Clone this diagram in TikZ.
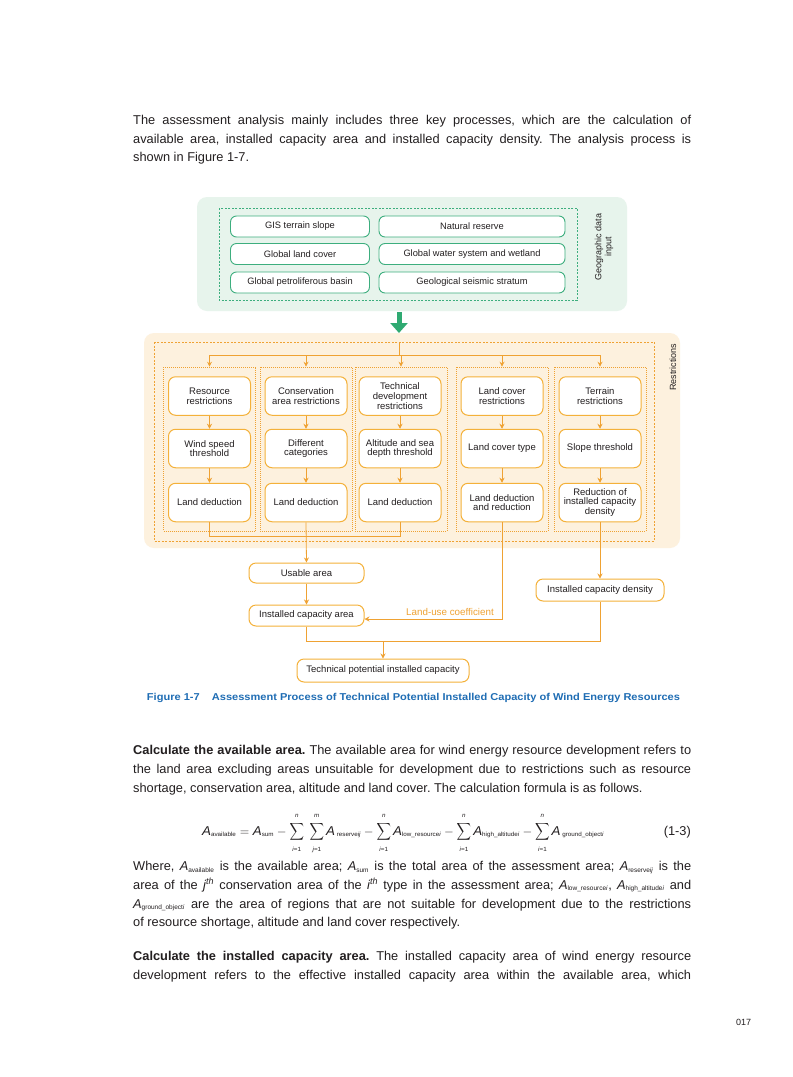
\documentclass[tikz,border=0pt]{standalone}
\usepackage{fontspec}
\setmainfont{Liberation Sans}
\usepackage{amsmath}
\usepackage{graphicx}
\usetikzlibrary{arrows.meta}
\frenchspacing
\definecolor{gfill}{HTML}{E7F4EC}
\definecolor{gline}{HTML}{3DAE7E}
\definecolor{garrow}{HTML}{2FAA72}
\definecolor{ofill}{HTML}{FDF1DE}
\definecolor{oline}{HTML}{EFA233}
\definecolor{oboxc}{HTML}{F4B13A}
\definecolor{capblue}{HTML}{1F6DB4}
\definecolor{txt}{HTML}{231F20}
\newsavebox\lnbox
\newcommand\jl[1]{\sbox\lnbox{#1}\ifdim\wd\lnbox>558pt\resizebox{558pt}{\height}{\usebox\lnbox}\else\makebox[558pt][s]{#1}\fi}
\newcommand\sbs[1]{\mbox{\fontsize{6}{6.5}\selectfont #1}}
\newcommand\up[1]{\raisebox{2.2pt}{\sbs{#1}}}
\newcommand\dn[1]{\raisebox{-2.2pt}{\sbs{#1}}}
\newcommand\As[1]{\textit{A}\textsubscript{\fontsize{6.5}{6.5}\selectfont #1}}
\newcommand\nsum{\mathop{\scalebox{0.8}[1]{$\displaystyle\sum$}}\limits}
\begin{document}
\begin{tikzpicture}[x=1pt,y=-1pt,
  bodytext/.style={anchor=base west,inner sep=0pt,text=txt,font=\fontsize{12.8}{14}\selectfont},
  gbox/.style={draw=gline,line width=0.9pt,rounded corners=6pt,fill=white,minimum height=21pt,inner sep=1pt,font=\fontsize{9.3}{10}\selectfont,text=txt},
  obox/.style={draw=oboxc,line width=1pt,rounded corners=7pt,fill=white,minimum width=82pt,minimum height=38.5pt,inner sep=1pt,align=center,font=\fontsize{9.5}{9.8}\selectfont,text=txt},
  fbox/.style={draw=oboxc,line width=1pt,rounded corners=7pt,fill=white,inner sep=1pt,font=\fontsize{9.5}{10}\selectfont,text=txt},
  colrect/.style={draw=oline,dash pattern=on 1pt off 1pt,line width=0.6pt,minimum width=92pt,minimum height=164pt,inner sep=0pt},
  oln/.style={draw=oline,line width=0.8pt},
  oarr/.style={oln,-{Stealth[length=5pt,width=5pt]}},
  sidelabel/.style={rotate=90,align=center,font=\fontsize{9}{10}\selectfont,text=txt}]
\useasboundingbox (0,0) rectangle (793,1077);
\fill[white] (0,0) rectangle (793,1077);
% ---- body text top
\node[bodytext] (p1a) at (133,124.5) {\jl{The assessment analysis mainly includes three key processes, which are the calculation of}};
\node[bodytext] (p1b) at (133,143) {\jl{available area, installed capacity area and installed capacity density. The analysis process is}};
\node[bodytext] (p1c) at (133,161.5) {shown in Figure 1-7.};
% ---- green panel
\fill[gfill,rounded corners=10pt] (197,197) rectangle (627,311);
\draw[gline,dash pattern=on 2pt off 1.5pt,line width=0.6pt] (219,208) rectangle (577,300);
\node[gbox,minimum width=139pt] (gis) at (300,226.5) {GIS terrain slope};
\node[gbox,minimum width=186pt] (nat) at (472,226.5) {Natural reserve};
\node[gbox,minimum width=139pt] (glc) at (300,254) {Global land cover};
\node[gbox,minimum width=186pt] (gws) at (472,254) {Global water system and wetland};
\node[gbox,minimum width=139pt] (gpb) at (300,282.5) {Global petroliferous basin};
\node[gbox,minimum width=186pt] (gss) at (472,282.5) {Geological seismic stratum};
\node[sidelabel] (geo) at (604,247) {Geographic data\\input};
% ---- green arrow
\coordinate (gout) at (399,312);
\coordinate (oin) at (399,333);
\draw[garrow,line width=5pt,-{Triangle[length=10pt,width=17pt]}] (gout) -- (oin);
% ---- orange panel
\fill[ofill,rounded corners=10pt] (144,333) rectangle (680,548);
\draw[oline,dash pattern=on 2pt off 1.5pt,line width=0.6pt] (154,342) rectangle (654,541);
\node[sidelabel] (restr) at (673,367) {Restrictions};
\node[colrect] (c1) at (209.5,449) {};
\node[colrect] (c2) at (306,449) {};
\node[colrect] (c3) at (401,449) {};
\node[colrect] (c4) at (502,449) {};
\node[colrect] (c5) at (600,449) {};
\node[obox] (r11) at (209.5,396) {Resource\\restrictions};
\node[obox] (r12) at (209.5,448.5) {Wind speed\\threshold};
\node[obox] (r13) at (209.5,502.5) {Land deduction};
\node[obox] (r21) at (306,396) {Conservation\\area restrictions};
\node[obox] (r22) at (306,448.5) {Different\\categories};
\node[obox] (r23) at (306,502.5) {Land deduction};
\node[obox] (r31) at (400,396) {Technical\\development\\restrictions};
\node[obox] (r32) at (400,448.5) {Altitude and sea\\depth threshold};
\node[obox] (r33) at (400,502.5) {Land deduction};
\node[obox] (r41) at (502,396) {Land cover\\restrictions};
\node[obox] (r42) at (502,448.5) {Land cover type};
\node[obox] (r43) at (502,502.5) {Land deduction\\and reduction};
\node[obox] (r51) at (600,396) {Terrain\\restrictions};
\node[obox] (r52) at (600,448.5) {Slope threshold};
\node[obox] (r53) at (600,502.5) {Reduction of\\installed capacity\\density};
\coordinate (inlet) at (399,342);
\coordinate (top) at (399,355);
\draw[oln] (inlet) -- (top);
\draw[oln] (top -| c1.north) -- (top -| c5.north);
\foreach \c in {c1,c2,c3,c4,c5} {\draw[oarr] (top -| \c.north) -- (\c.north);}
\foreach \i in {1,2,3,4,5} {
  \draw[oarr] (r\i1.south) -- (r\i2.north);
  \draw[oarr] (r\i2.south) -- (r\i3.north);
}
% ---- lower flow
\node[fbox,minimum width=115pt,minimum height=20pt] (usable) at (306.5,573) {Usable area};
\node[fbox,minimum width=115pt,minimum height=21pt] (icarea) at (306.5,615.5) {Installed capacity area};
\node[fbox,minimum width=128pt,minimum height=22pt] (dens) at (600,590) {Installed capacity density};
\node[fbox,minimum width=172pt,minimum height=23pt] (tech) at (383,670.5) {Technical potential installed capacity};
\coordinate (bj) at (306.5,536);
\draw[oln] (r13.south) -- (r13.south |- bj) -- (bj -| r33.south) -- (r33.south);
\draw[oarr] (r23.south) -- (usable.north);
\draw[oarr] (usable.south) -- (icarea.north);
\draw[oarr] (r43.south) |- ([yshift=-3.5pt]icarea.east);
\node[text=oline,font=\fontsize{9.8}{11}\selectfont,inner sep=0pt] (luc) at (450,612) {Land-use coefficient};
\draw[oarr] (r53.south) -- (dens.north);
\coordinate (jn) at (383,641);
\draw[oln] (icarea.south) -- (icarea.south |- jn) -- (jn -| dens.south) -- (dens.south);
\draw[oarr] (jn) -- (tech.north);
% ---- caption
\node[text=capblue,inner sep=0pt,font=\bfseries\fontsize{10}{12}\selectfont] (cap) at (413.5,698) {\resizebox{533pt}{\height}{Figure 1-7\hspace{1.1em}Assessment Process of Technical Potential Installed Capacity of Wind Energy Resources}};
% ---- body text lower
\node[bodytext] (p2a) at (133,754.5) {\jl{\textbf{Calculate the available area.} The available area for wind energy resource development refers to}};
\node[bodytext] (p2b) at (133,773.5) {\jl{the land area excluding areas unsuitable for development due to restrictions such as resource}};
\node[bodytext] (p2c) at (133,792.5) {shortage, conservation area, altitude and land cover. The calculation formula is as follows.};
\node[bodytext,font=\fontsize{12.8}{15}\selectfont] (eq) at (202,835) {\resizebox{402pt}{\height}{$\displaystyle \textit{A}_{\sbs{available}} = \textit{A}_{\sbs{sum}} - \nsum_{\dn{\textit{i}=1}}^{\up{\textit{n}}}\;\nsum_{\dn{\textit{j}=1}}^{\up{\textit{m}}} \textit{A}_{\sbs{\ reserve\textit{ij}}} - \nsum_{\dn{\textit{i}=1}}^{\up{\textit{n}}} \textit{A}_{\sbs{low\_resource\textit{i}}} - \nsum_{\dn{\textit{i}=1}}^{\up{\textit{n}}} \textit{A}_{\sbs{high\_altitude\textit{i}}} - \nsum_{\dn{\textit{i}=1}}^{\up{\textit{n}}} \textit{A}_{\sbs{\ ground\_object\textit{i}}}$}};
\node[bodytext,anchor=base east] (eqn) at (691,835) {(1-3)};
\node[bodytext] (p3a) at (133,870.5) {\jl{Where, \As{available} is the available area; \As{sum} is the total area of the assessment area; \As{reserve\textit{ij}} is the}};
\node[bodytext] (p3b) at (133,889) {\jl{area of the \textit{j}\textsuperscript{\itshape th} conservation area of the \textit{i}\textsuperscript{\itshape th} type in the assessment area; \As{low\_resource\textit{i}}, \As{high\_altitude\textit{i}} and}};
\node[bodytext] (p3c) at (133,908) {\jl{\As{ground\_object\textit{i}} are the area of regions that are not suitable for development due to the restrictions}};
\node[bodytext] (p3d) at (133,926.5) {of resource shortage, altitude and land cover respectively.};
\node[bodytext] (p4a) at (133,960.5) {\jl{\textbf{Calculate the installed capacity area.} The installed capacity area of wind energy resource}};
\node[bodytext] (p4b) at (133,979.5) {\jl{development refers to the effective installed capacity area within the available area, which}};
\node[bodytext,font=\fontsize{9}{10}\selectfont] (pg) at (736,1025.5) {017};
\end{tikzpicture}
\end{document}
